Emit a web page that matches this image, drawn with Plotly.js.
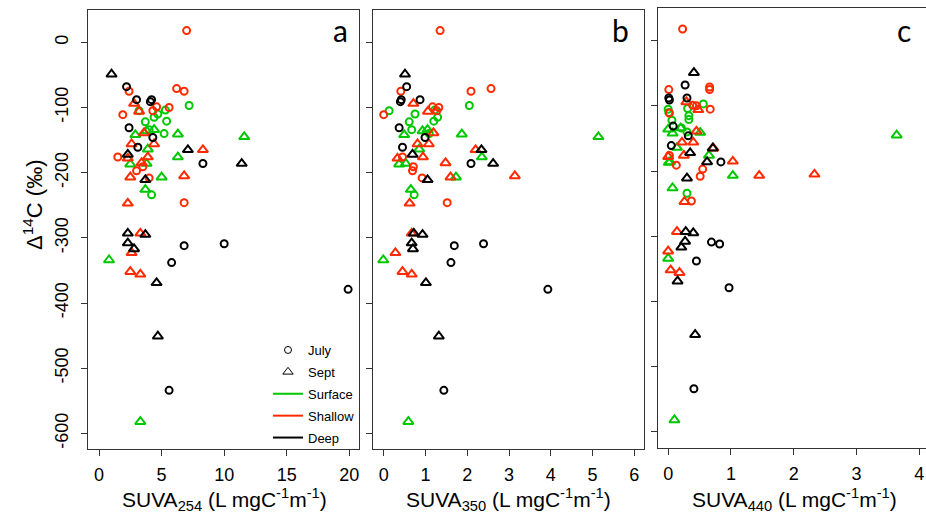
<!DOCTYPE html>
<html>
<head>
<meta charset="utf-8">
<script src="https://cdn.plot.ly/plotly-3.0.1.min.js"></script>
<style>html,body{margin:0;padding:0;background:#fff;overflow:hidden;}#chart{width:926px;height:520px;}</style>
</head>
<body>
<div id="chart"></div>
<script>
// ---- Data (Δ14C in ‰; SUVA in L mgC-1 m-1) ----
const surfJulyY   = [-97, -105, -104, -110, -115, -122, -121, -134, -140, -234];
const surfJuly254 = [7.2, 3.2, 5.3, 4.7, 4.4, 3.7, 5.4, 4.0, 5.2, 4.2];
const surfJuly350 = [2.05, 0.13, 1.22, 0.75, 1.29, 0.61, 1.20, 0.67, 1.09, 0.73];
const surfJuly440 = [0.56, 0.00, 0.31, 0.01, 0.33, 0.06, 0.33, 0.21, 0.30, 0.30];

const surfSeptY   = [-142, -136, -134, -141, -164, -187, -186, -176, -207, -226, -145, -334, -582];
const surfSept254 = [2.9, 3.8, 4.4, 6.3, 3.9, 2.5, 3.8, 6.3, 5.0, 3.7, 11.6, 0.8, 3.3];
const surfSept350 = [0.49, 0.93, 1.05, 1.87, 0.85, 0.37, 0.53, 2.35, 1.73, 0.65, 5.14, -0.01, 0.59];
const surfSept440 = [0.07, 0.00, 0.20, 0.51, 0.14, 0.01, 0.03, 0.65, 1.03, 0.07, 3.64, 0.00, 0.10];

const shalJulyY   = [18, -75, -71, -75, -111, -99, -100, -105, -176, -197, -191, -208, -246];
const shalJuly254 = [7.0, 2.4, 6.2, 6.8, 1.9, 4.6, 5.6, 4.3, 1.5, 3.0, 3.5, 4.0, 6.8];
const shalJuly350 = [1.35, 0.41, 2.57, 2.09, 0.00, 1.17, 1.32, 1.27, 0.45, 0.69, 0.71, 0.92, 1.52];
const shalJuly440 = [0.23, 0.01, 0.66, 0.66, 0.02, 0.39, 0.45, 0.67, 0.02, 0.55, 0.13, 0.51, 0.37];

const shalSeptY   = [-94, -106, -139, -156, -156, -165, -178, -176, -185, -207, -205, -247, -293, -323, -352, -356];
const shalSept254 = [2.8, 3.2, 3.6, 2.6, 4.4, 8.3, 2.3, 3.9, 3.4, 2.5, 6.8, 2.3, 3.3, 2.6, 2.5, 3.3];
const shalSept350 = [0.71, 1.06, 1.19, 0.81, 1.08, 2.20, 0.33, 0.94, 1.48, 1.60, 3.14, 0.62, 0.67, 0.28, 0.45, 0.67];
const shalSept440 = [0.29, 0.48, 0.45, 0.22, 0.40, 0.72, 0.00, 0.25, 1.03, 1.45, 2.33, 0.26, 0.14, 0.00, 0.04, 0.18];

const deepJulyY   = [-68, -88, -91, -88, -131, -146, -161, -186, -312, -309, -338, -379, -534];
const deepJuly254 = [2.2, 3.0, 4.1, 4.2, 2.4, 4.3, 3.1, 8.3, 6.8, 10.0, 5.8, 19.9, 5.6];
const deepJuly350 = [0.55, 0.42, 0.40, 0.87, 0.37, 0.99, 0.45, 2.09, 1.69, 2.39, 1.61, 3.93, 1.44];
const deepJuly440 = [0.27, 0.01, 0.02, 0.30, 0.08, 0.32, 0.05, 0.84, 0.82, 0.69, 0.45, 0.97, 0.41];

const deepSeptY   = [-49, -172, -211, -165, -186, -293, -295, -308, -317, -369, -451];
const deepSept254 = [1.0, 2.3, 3.7, 7.1, 11.4, 2.3, 3.7, 2.3, 2.8, 4.6, 4.7];
const deepSept350 = [0.51, 0.69, 1.05, 2.34, 2.62, 0.72, 0.93, 0.67, 0.70, 1.01, 1.32];
const deepSept440 = [0.41, 0.35, 0.30, 0.71, 0.62, 0.28, 0.40, 0.27, 0.21, 0.15, 0.43];

const yTickVals = [-600, -500, -400, -300, -200, -100, 0];
const yTickText = ['-600', '-500', '-400', '-300', '-200', '-100', '0'];
const panelLetters = ['a', 'b', 'c'];
const legendLabels = ['July', 'Sept', 'Surface', 'Shallow', 'Deep'];

// ---- Styling ----
const W = 926, H = 520;
const GREEN = '#00C800', RED = '#FF2A00', BLACK = '#000000';
const NARROW = 'Liberation Sans Narrow, Arial Narrow, Liberation Sans, sans-serif';
const TICKFONT = {family: NARROW, size: 18, color: '#000'};
const TITLEFONT = {family: NARROW, size: 21, color: '#000'};
const px = v => v / W;
const py = v => 1 - v / H;

const groups = [
  {y: surfJulyY, xs: [surfJuly254, surfJuly350, surfJuly440], color: GREEN, sym: 'circle-open', size: 7},
  {y: surfSeptY, xs: [surfSept254, surfSept350, surfSept440], color: GREEN, sym: 'triangle-up-open', size: 9},
  {y: shalJulyY, xs: [shalJuly254, shalJuly350, shalJuly440], color: RED, sym: 'circle-open', size: 7},
  {y: shalSeptY, xs: [shalSept254, shalSept350, shalSept440], color: RED, sym: 'triangle-up-open', size: 9},
  {y: deepJulyY, xs: [deepJuly254, deepJuly350, deepJuly440], color: BLACK, sym: 'circle-open', size: 7},
  {y: deepSeptY, xs: [deepSept254, deepSept350, deepSept440], color: BLACK, sym: 'triangle-up-open', size: 9}
];
const axisIds = [['x', 'y'], ['x2', 'y2'], ['x3', 'y3']];

const traces = [];
groups.forEach(g => {
  g.xs.forEach((xv, i) => {
    traces.push({
      type: 'scatter', mode: 'markers', x: xv, y: g.y,
      xaxis: axisIds[i][0], yaxis: axisIds[i][1], showlegend: false, hoverinfo: 'skip',
      marker: {symbol: g.sym, size: g.size, color: g.color, line: {color: g.color, width: 2}}
    });
  });
});
// legend entries
traces.push({type: 'scatter', mode: 'markers', x: [null], y: [null], name: legendLabels[0], legendgroup: 'g1',
  marker: {symbol: 'circle-open', size: 7, color: BLACK, line: {color: BLACK, width: 1}}});
traces.push({type: 'scatter', mode: 'markers', x: [null], y: [null], name: legendLabels[1], legendgroup: 'g2',
  marker: {symbol: 'triangle-up-open', size: 9, color: BLACK, line: {color: BLACK, width: 1}}});
traces.push({type: 'scatter', mode: 'lines', x: [null], y: [null], name: legendLabels[2], legendgroup: 'g3', line: {color: GREEN, width: 2}});
traces.push({type: 'scatter', mode: 'lines', x: [null], y: [null], name: legendLabels[3], legendgroup: 'g4', line: {color: RED, width: 2}});
traces.push({type: 'scatter', mode: 'lines', x: [null], y: [null], name: legendLabels[4], legendgroup: 'g5', line: {color: BLACK, width: 2}});

const xBase = {showgrid: false, zeroline: false, showline: true, mirror: true, linecolor: '#333', linewidth: 1,
  ticks: 'outside', ticklen: 6, tickcolor: '#333', tickfont: TICKFONT, fixedrange: true, ticklabelstandoff: 3};
const yBase = Object.assign({}, xBase, {tickmode: 'array', tickvals: yTickVals, ticktext: yTickText, ticklabelstandoff: 6});

const layout = {
  width: W, height: H, margin: {l: 0, r: 0, t: 0, b: 0},
  paper_bgcolor: '#fff', plot_bgcolor: '#fff', showlegend: true,
  legend: {x: px(268), y: py(335), xanchor: 'left', yanchor: 'top', bgcolor: 'rgba(0,0,0,0)',
    font: {family: 'Liberation Sans, Arial, sans-serif', size: 13, color: '#000'}, tracegroupgap: 2, itemwidth: 30},
  xaxis:  Object.assign({}, xBase, {domain: [px(88), px(359)], range: [-0.88, 20.77], dtick: 5, tick0: 0, anchor: 'y'}),
  xaxis2: Object.assign({}, xBase, {domain: [px(373.3), px(644)], range: [-0.249, 6.232], dtick: 1, tick0: 0, anchor: 'y2'}),
  xaxis3: Object.assign({}, xBase, {domain: [px(658.3), 1], range: [-0.157, 4.107], dtick: 1, tick0: 0, anchor: 'y3'}),
  yaxis:  Object.assign({}, yBase, {domain: [py(449), py(10)], range: [-624, 49.6], anchor: 'x', tickangle: -90}),
  yaxis2: Object.assign({}, yBase, {domain: [py(449), py(10)], range: [-624, 49.6], anchor: 'x2', showticklabels: false}),
  yaxis3: Object.assign({}, yBase, {domain: [py(448.3), py(8.3)], range: [-625.4, 49.7], anchor: 'x3', showticklabels: false, mirror: false}),
  annotations: [
    {text: 'Δ<sup>14</sup>C (‰)', xref: 'paper', yref: 'paper', x: px(33), y: py(205), textangle: -90, showarrow: false,
      xanchor: 'center', yanchor: 'middle', font: {family: NARROW, size: 22, color: '#000'}},
    {text: 'SUVA<sub>254</sub> (L mgC<sup>-1</sup>m<sup>-1</sup>)', xref: 'paper', yref: 'paper', x: px(224), y: py(499), showarrow: false,
      xanchor: 'center', yanchor: 'middle', font: TITLEFONT},
    {text: 'SUVA<sub>350</sub> (L mgC<sup>-1</sup>m<sup>-1</sup>)', xref: 'paper', yref: 'paper', x: px(509), y: py(499), showarrow: false,
      xanchor: 'center', yanchor: 'middle', font: TITLEFONT},
    {text: 'SUVA<sub>440</sub> (L mgC<sup>-1</sup>m<sup>-1</sup>)', xref: 'paper', yref: 'paper', x: px(794), y: py(499), showarrow: false,
      xanchor: 'center', yanchor: 'middle', font: TITLEFONT},
    {text: panelLetters[0], xref: 'paper', yref: 'paper', x: px(340), y: py(30), showarrow: false, xanchor: 'center', yanchor: 'middle',
      font: {family: 'Lato, Open Sans, sans-serif', size: 30, color: '#000'}},
    {text: panelLetters[1], xref: 'paper', yref: 'paper', x: px(620), y: py(30), showarrow: false, xanchor: 'center', yanchor: 'middle',
      font: {family: 'Lato, Open Sans, sans-serif', size: 30, color: '#000'}},
    {text: panelLetters[2], xref: 'paper', yref: 'paper', x: px(904), y: py(30), showarrow: false, xanchor: 'center', yanchor: 'middle',
      font: {family: 'Lato, Open Sans, sans-serif', size: 30, color: '#000'}}
  ]
};

Plotly.newPlot('chart', traces, layout, {staticPlot: true, displayModeBar: false});
</script>
</body>
</html>
